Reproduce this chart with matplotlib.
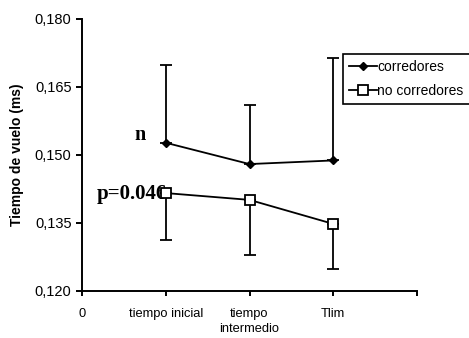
import numpy as np
import matplotlib.pyplot as plt
from matplotlib.lines import Line2D

# data
etapas = ['tiempo inicial', 'tiempo\nintermedio', 'Tlim']
corredores = [0.1527, 0.1480, 0.1488]
corredores_err = [0.0172, 0.0130, 0.0226]
no_corredores = [0.1416, 0.1401, 0.1348]
no_corredores_err = [0.0104, 0.0122, 0.0100]

plt.rcParams['font.family'] = ['Liberation Sans', 'DejaVu Sans']

fig = plt.figure(figsize=(4.69, 3.38), dpi=100)
ax = fig.add_axes([82 / 469, 47 / 338, 335 / 469, 272 / 338])

x = np.arange(1, len(etapas) + 1)
zeros = np.zeros(len(x))
lw = 1.3

ax.errorbar(x, corredores, yerr=[zeros, corredores_err], color='black', lw=lw,
            marker='D', markersize=4.5, markerfacecolor='black', capsize=4,
            capthick=lw, elinewidth=lw, zorder=3)
ax.errorbar(x, no_corredores, yerr=[no_corredores_err, zeros], color='black', lw=lw,
            marker='s', markersize=7, markerfacecolor='white', markeredgewidth=lw,
            capsize=4, capthick=lw, elinewidth=lw, zorder=3)

ax.set_xlim(0, 4)
ax.set_ylim(0.120, 0.180)
ax.set_yticks([0.120, 0.135, 0.150, 0.165, 0.180])
ax.set_yticklabels(['0,120', '0,135', '0,150', '0,165', '0,180'], fontsize=10.5)
ax.set_xticks([0, 1, 2, 3, 4])
ax.set_xticklabels(['0'] + etapas + [''], fontsize=9.3, linespacing=1.3)

for side in ['top', 'right']:
    ax.spines[side].set_visible(False)
for side in ['left', 'bottom']:
    ax.spines[side].set_linewidth(1.4)
ax.tick_params(axis='y', direction='out', length=4.5, width=1.4, pad=3)
ax.tick_params(axis='x', direction='out', length=3.5, width=1.4, pad=9)

ax.set_ylabel('Tiempo de vuelo (ms)', fontsize=10, fontweight='bold', labelpad=8)

ax.text(0.62, 0.1545, 'n', fontsize=14.5, fontweight='bold',
        family=['Liberation Serif', 'DejaVu Serif'], va='center')
ax.text(0.18, 0.1415, 'p=0.046', fontsize=15, fontweight='bold',
        family=['Liberation Serif', 'DejaVu Serif'], va='center')

handles = [
    Line2D([], [], color='black', lw=lw, marker='D', markersize=4.5,
           markerfacecolor='black'),
    Line2D([], [], color='black', lw=lw, marker='s', markersize=7,
           markerfacecolor='white', markeredgewidth=lw),
]
leg = fig.legend(handles, ['corredores', 'no corredores'], loc='upper left',
                 bbox_to_anchor=(343 / 469, 1 - 54 / 338),
                 frameon=True, fancybox=False, edgecolor='black', framealpha=1,
                 fontsize=10, handlelength=2.0, handletextpad=0.0,
                 borderpad=0.45, labelspacing=0.7, borderaxespad=0)
leg.get_frame().set_linewidth(1.2)

fig.savefig('out.png', dpi=100)
